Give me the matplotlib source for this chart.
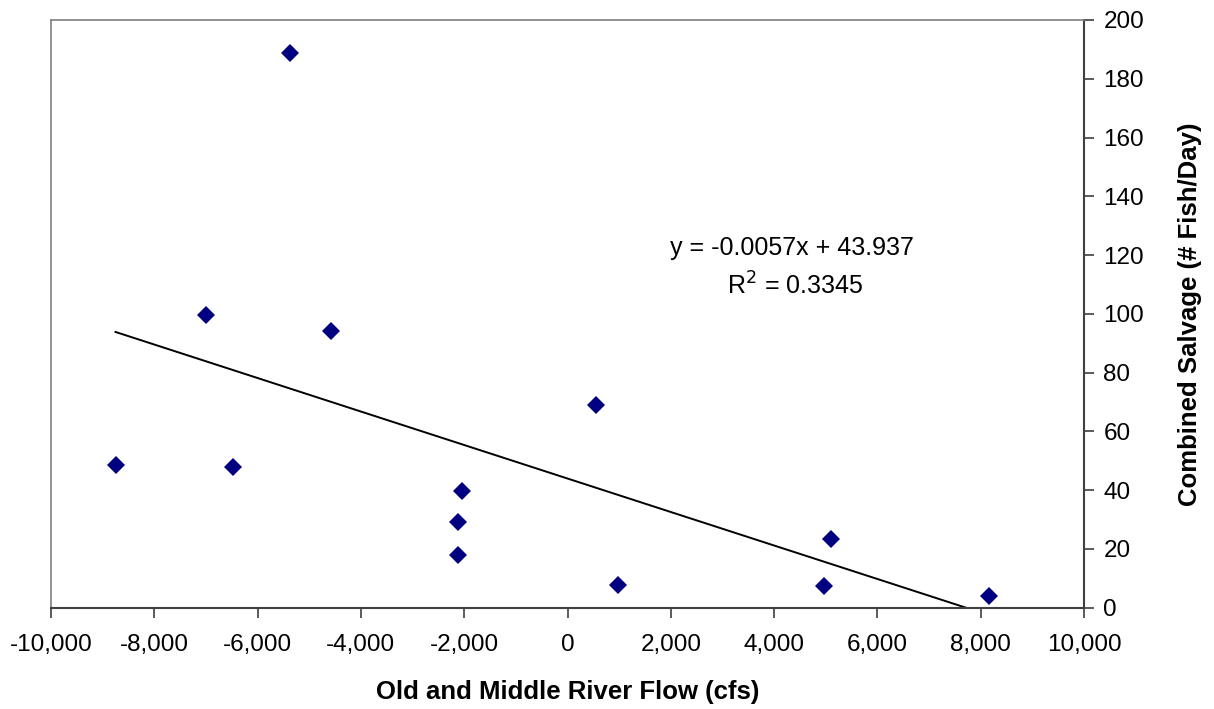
import matplotlib.pyplot as plt
import numpy as np

# values
flow = np.array([-8750, -7000, -6470, -5380, -4580, -2120, -2120, -2040,
                 560, 980, 4960, 5110, 8170])
salvage = np.array([48.5, 99.5, 47.8, 188.7, 94.2, 17.8, 29.2, 39.8,
                    69.1, 7.8, 7.2, 23.2, 3.9])
slope = -0.0057
intercept = 43.937
r2 = 0.3345

plt.rcParams['font.family'] = ['Liberation Sans', 'DejaVu Sans']

fig = plt.figure(figsize=(12.14, 7.09), dpi=100)
ax = fig.add_axes([51 / 1214, 1 - 607.6 / 709, (1084 - 51) / 1214, (607.6 - 20) / 709])

# trend line, clipped at y = 0 by the axis limits
xl = np.array([flow.min(), flow.max()])
ax.plot(xl, slope * xl + intercept, color='black', lw=1.4)
ax.plot(flow, salvage, 'D', color='#000080', markersize=9, markeredgewidth=0)

ax.set_xlim(-10000, 10000)
ax.set_ylim(0, 200)
ax.set_xticks(np.arange(-10000, 10001, 2000))
ax.set_yticks(np.arange(0, 201, 20))
ax.xaxis.set_major_formatter(plt.FuncFormatter(lambda v, p: f"{int(v):,}"))

ax.yaxis.tick_right()
ax.yaxis.set_label_position('right')
ax.tick_params(axis='both', labelsize=17.5, direction='out', length=7, width=1.2, color='#404040')
ax.tick_params(axis='y', pad=7)
ax.tick_params(axis='x', pad=12)

for s in ['left', 'top']:
    ax.spines[s].set_color('#808080')
    ax.spines[s].set_linewidth(1.2)
for s in ['bottom', 'right']:
    ax.spines[s].set_color('#404040')
    ax.spines[s].set_linewidth(1.5)

ax.set_xlabel("Old and Middle River Flow (cfs)", fontsize=18.5, fontweight='bold', labelpad=17)
ax.set_ylabel("Combined Salvage (# Fish/Day)", fontsize=18.5, fontweight='bold', labelpad=24)

ax.text(4350, 122.3, f"y = {slope}x + {intercept}", fontsize=18, ha='center', va='center')
ax.text(4400, 109.3, f"R$^2$ = {r2}", fontsize=18, ha='center', va='center')

fig.savefig("out.png", dpi=100)
